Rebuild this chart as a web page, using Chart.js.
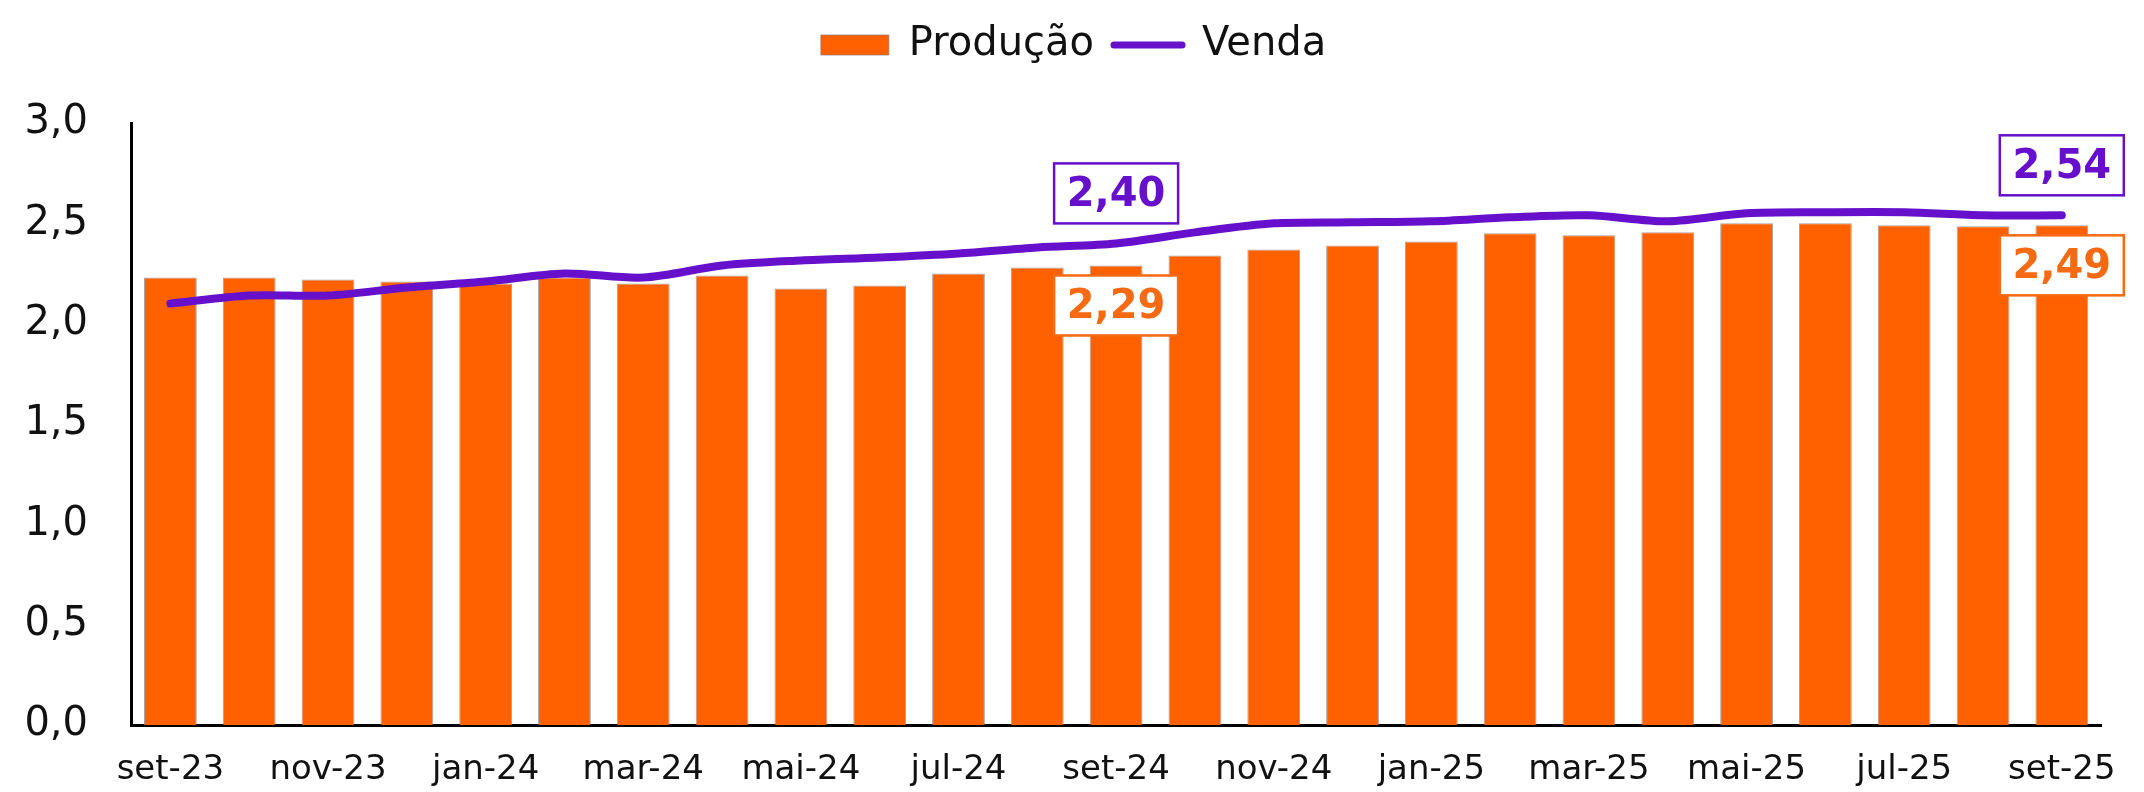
<!DOCTYPE html>
<html>
<head>
<meta charset="utf-8">
<script src="https://cdn.jsdelivr.net/npm/chart.js@4.4.1/dist/chart.umd.min.js"></script>
<style>
  html, body { margin: 0; padding: 0; background: #ffffff; }
  #wrap { width: 2144px; height: 792px; position: relative; }
</style>
</head>
<body>
<div id="wrap"><canvas id="c" width="2144" height="792"></canvas></div>
<script>
// ---- data ----
const categories = ['set-23','out-23','nov-23','dez-23','jan-24','fev-24','mar-24','abr-24','mai-24','jun-24','jul-24','ago-24','set-24','out-24','nov-24','dez-24','jan-25','fev-25','mar-25','abr-25','mai-25','jun-25','jul-25','ago-25','set-25'];
const producao = [2.23, 2.23, 2.22, 2.21, 2.20, 2.23, 2.20, 2.24, 2.175, 2.19, 2.25, 2.28, 2.29, 2.34, 2.37, 2.39, 2.41, 2.45, 2.44, 2.455, 2.50, 2.50, 2.49, 2.485, 2.49];
const venda    = [2.10, 2.14, 2.14, 2.18, 2.21, 2.25, 2.23, 2.29, 2.315, 2.33, 2.35, 2.38, 2.40, 2.455, 2.50, 2.505, 2.51, 2.53, 2.54, 2.51, 2.55, 2.555, 2.555, 2.54, 2.54];
const labeledIdx = [12, 24];
const yTicks = [0, 0.5, 1.0, 1.5, 2.0, 2.5, 3.0];

// ---- style ----
const ORANGE = '#FF6100';
const ORANGE_TXT = '#F56A12';
const PURPLE = '#6610CC';
const FONT = '"DejaVu Sans", Verdana, sans-serif';

const fmt1 = v => v.toFixed(1).replace('.', ',');
const fmt2 = v => v.toFixed(2).replace('.', ',');

const valueLabels = {
  id: 'valueLabels',
  afterDatasetsDraw(chart) {
    const ctx = chart.ctx;
    const xs = chart.scales.x, ys = chart.scales.y;
    const W = 124, H = 60;
    function box(cx, cy, text, color) {
      ctx.fillStyle = '#ffffff';
      ctx.fillRect(cx - W / 2, cy - H / 2, W, H);
      ctx.lineWidth = 2.5;
      ctx.strokeStyle = color;
      ctx.strokeRect(cx - W / 2, cy - H / 2, W, H);
      ctx.fillStyle = color;
      ctx.fillText(text, cx, cy + 2);
    }
    ctx.save();
    ctx.font = 'bold 40px ' + FONT;
    ctx.textAlign = 'center';
    ctx.textBaseline = 'middle';
    labeledIdx.forEach(i => {
      const x = xs.getPixelForValue(i);
      box(x, ys.getPixelForValue(venda[i]) - 50, fmt2(venda[i]), PURPLE);
      box(x, ys.getPixelForValue(producao[i]) + 40, fmt2(producao[i]), ORANGE_TXT);
    });
    ctx.restore();
  }
};

const legendSpacer = {
  id: 'legendSpacer',
  beforeInit(chart) {
    const origFit = chart.legend.fit;
    chart.legend.fit = function () {
      origFit.call(this);
      this.height += 48;
    };
  }
};

new Chart(document.getElementById('c'), {
  data: {
    labels: categories,
    datasets: [
      {
        type: 'bar',
        label: 'Produção',
        data: producao,
        backgroundColor: ORANGE,
        borderColor: 'rgba(140,120,120,0.7)',
        borderWidth: 1,
        barPercentage: 0.67,
        categoryPercentage: 1.0,
        order: 2
      },
      {
        type: 'line',
        label: 'Venda',
        data: venda,
        borderColor: PURPLE,
        backgroundColor: PURPLE,
        borderWidth: 8,
        borderCapStyle: 'round',
        borderJoinStyle: 'round',
        pointRadius: 0,
        tension: 0.3,
        fill: false,
        order: 1
      }
    ]
  },
  options: {
    responsive: false,
    animation: false,
    devicePixelRatio: 1,
    layout: { padding: { left: 25, right: 22, top: 5, bottom: 1 } },
    plugins: {
      tooltip: { enabled: false },
      legend: {
        position: 'top',
        align: 'center',
        labels: {
          sort: (a, b) => a.datasetIndex - b.datasetIndex,
          usePointStyle: true,
          pointStyleWidth: 68,
          boxHeight: 20,
          padding: 20,
          color: '#111111',
          font: { size: 40, family: FONT },
          generateLabels(chart) {
            const items = Chart.defaults.plugins.legend.labels.generateLabels(chart);
            items.forEach(it => {
              if (it.datasetIndex === 0) {
                it.pointStyle = 'rect';
                it.fillStyle = ORANGE;
                it.strokeStyle = 'rgba(140,120,120,0.7)';
                it.lineWidth = 1;
              } else {
                it.pointStyle = 'line';
                it.strokeStyle = PURPLE;
                it.fillStyle = PURPLE;
                it.lineWidth = 7;
                it.lineCap = 'round';
              }
            });
            return items;
          }
        }
      }
    },
    scales: {
      x: {
        offset: true,
        afterFit: axis => { axis.height = 61; },
        grid: { display: false, drawTicks: false },
        border: { display: true, color: '#000000', width: 3 },
        ticks: {
          autoSkip: false,
          maxRotation: 0,
          minRotation: 0,
          padding: 28,
          color: '#111111',
          font: { size: 34, family: FONT, lineHeight: 1 },
          callback: (v, i) => (i % 2 === 0 ? categories[i] : '')
        }
      },
      y: {
        min: 0,
        max: 3,
        afterBuildTicks: axis => { axis.ticks = yTicks.map(v => ({ value: v })); },
        afterFit: axis => { axis.width = 106; },
        grid: { display: false, drawTicks: false },
        border: { display: true, color: '#000000', width: 3 },
        ticks: {
          padding: 43,
          color: '#111111',
          font: { size: 40, family: FONT },
          callback: v => fmt1(v)
        }
      }
    }
  },
  plugins: [valueLabels, legendSpacer]
});
</script>
</body>
</html>
